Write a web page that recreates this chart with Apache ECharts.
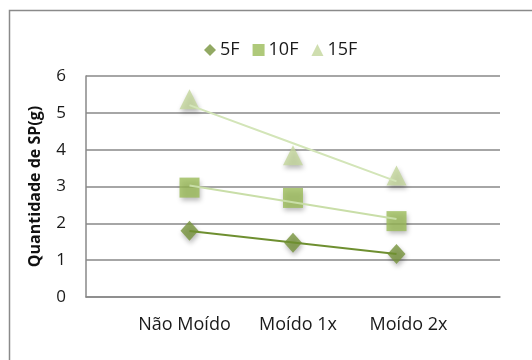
<!DOCTYPE html>
<html>
<head>
<meta charset="utf-8">
<script src="https://cdn.jsdelivr.net/npm/echarts@6/dist/echarts.min.js"></script>
<style>
  html, body { margin: 0; padding: 0; background: #fff; }
  #chart { width: 532px; height: 360px; }
</style>
</head>
<body>
<div id="chart"></div>
<script>
// Categories (padded with empty slots so the points sit on ticks 1..3)
const categories = ['Não Moído', 'Moído 1x', 'Moído 2x'];
const seriesNames = ['5F', '10F', '15F'];
const values5F = [1.8, 1.47, 1.17];
const values10F = [2.97, 2.69, 2.06];
const values15F = [5.37, 3.85, 3.3];
const yTicks = [0, 1, 2, 3, 4, 5, 6];
const yTitle = 'Quantidade de SP(g)';

const FONT = '"Open Sans", "Liberation Sans", sans-serif';
const TEXT = '#1a1a1a';
const markerColors = ['#77933C', '#9BBB59', '#C3D69B'];
const trendColors = ['#6E8F30', '#C9DEA8', '#D3E5B8'];
const symbols = ['diamond', 'rect', 'triangle'];
const symbolSizes = [[18, 20], 20, 20];

const axisCats = [''].concat(categories, ['']);

// Least-squares linear trendline over x = 1..n
function trend(vals) {
  const n = vals.length;
  let sx = 0, sy = 0, sxx = 0, sxy = 0;
  vals.forEach((v, i) => { const x = i + 1; sx += x; sy += v; sxx += x * x; sxy += x * v; });
  const b = (n * sxy - sx * sy) / (n * sxx - sx * sx);
  const a = (sy - b * sx) / n;
  return vals.map((v, i) => a + b * (i + 1));
}
function pad(arr) { return [null].concat(arr, [null]); }

const allValues = [values5F, values10F, values15F];
const series = [];
allValues.forEach((vals, k) => {
  series.push({
    name: seriesNames[k],
    type: 'scatter',
    data: pad(vals),
    symbol: symbols[k],
    symbolSize: symbolSizes[k],
    itemStyle: {
      color: markerColors[k],
      shadowColor: 'rgba(0,0,0,0.35)',
      shadowBlur: 5,
      shadowOffsetX: 1,
      shadowOffsetY: 3
    },
    z: 2
  });
});
allValues.forEach((vals, k) => {
  series.push({
    name: seriesNames[k] + ' (linear)',
    type: 'line',
    data: pad(trend(vals)),
    showSymbol: false,
    symbol: 'none',
    lineStyle: { color: trendColors[k], width: 2 },
    silent: true,
    z: 3
  });
});

// small horizontal nudges for the category labels
const labelShift = { 'Não Moído': -5, 'Moído 1x': 5, 'Moído 2x': 12 };
const rich = {};
categories.forEach((c, i) => {
  const s = labelShift[c] || 0;
  rich['c' + i] = {
    fontFamily: FONT, fontSize: 18, color: TEXT,
    padding: s >= 0 ? [0, 0, 0, 2 * s] : [0, -2 * s, 0, 0]
  };
});

const chart = echarts.init(document.getElementById('chart'), null, { renderer: 'canvas' });
chart.setOption({
  animation: false,
  backgroundColor: '#fff',
  graphic: [{
    type: 'rect',
    shape: { x: 9.5, y: 10.5, width: 600, height: 400 },
    style: { fill: 'none', stroke: '#8a8a8a', lineWidth: 1.5 },
    z: -10
  }],
  legend: {
    data: seriesNames.map((n, k) => ({ name: n, icon: symbols[k] })),
    left: 199,
    top: 36,
    itemWidth: 12,
    itemHeight: 12,
    itemGap: 13,
    textStyle: { fontFamily: FONT, fontSize: 18, color: TEXT, padding: [0, 0, 0, -1] }
  },
  grid: { left: 86, right: 32, top: 76, bottom: 63, containLabel: false },
  xAxis: {
    type: 'category',
    data: axisCats,
    boundaryGap: false,
    axisLine: { show: true, lineStyle: { color: '#888', width: 1.5 } },
    axisTick: { show: false },
    splitLine: { show: false },
    axisLabel: {
      interval: 0,
      margin: 19,
      formatter: function (v) {
        const i = categories.indexOf(v);
        return i < 0 ? '' : '{c' + i + '|' + v + '}';
      },
      rich: rich
    }
  },
  yAxis: {
    type: 'value',
    min: yTicks[0],
    max: yTicks[yTicks.length - 1],
    interval: 1,
    name: yTitle,
    nameLocation: 'middle',
    nameGap: 43,
    nameRotate: 90,
    nameTextStyle: { fontFamily: FONT, fontSize: 16, fontWeight: 'bold', color: '#111' },
    axisLine: { show: true, lineStyle: { color: '#888', width: 1.5 } },
    axisTick: { show: false },
    splitLine: { show: true, lineStyle: { color: '#888', width: 1.5 } },
    axisLabel: { margin: 20, fontFamily: FONT, fontSize: 17, color: TEXT }
  },
  series: series
});
</script>
</body>
</html>
